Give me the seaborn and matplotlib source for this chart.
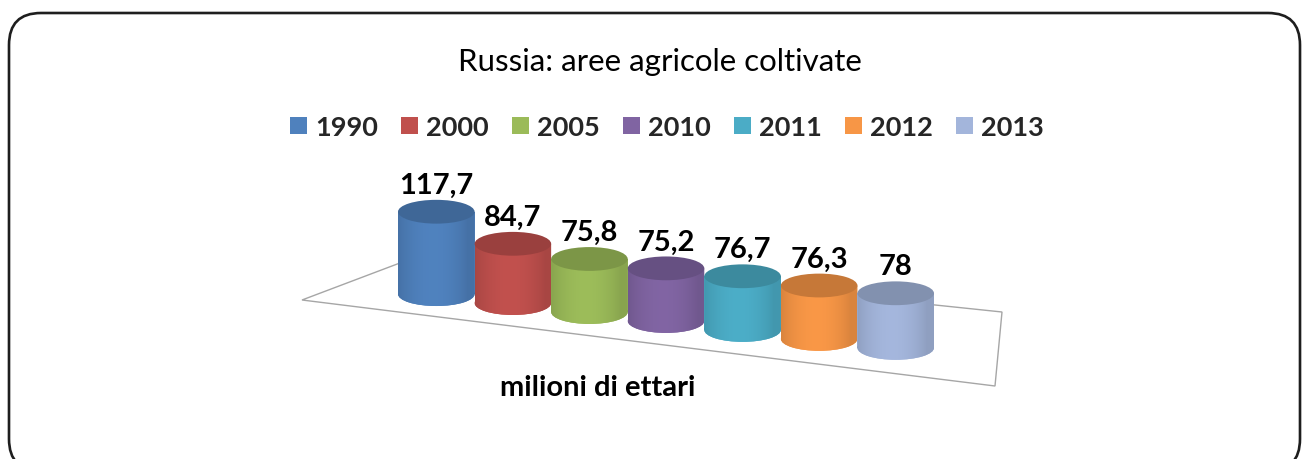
import numpy as np
import pandas as pd
import matplotlib
matplotlib.use("Agg")
import matplotlib.pyplot as plt
import seaborn as sns
from matplotlib.patches import Ellipse, FancyBboxPatch, Polygon, PathPatch
from matplotlib.path import Path
from matplotlib.transforms import Affine2D
import matplotlib.colors as mcolors

# ---- data ----
years = ["1990", "2000", "2005", "2010", "2011", "2012", "2013"]
values = [117.7, 84.7, 75.8, 75.2, 76.7, 76.3, 78.0]
labels = ["117,7", "84,7", "75,8", "75,2", "76,7", "76,3", "78"]
category = ["milioni di ettari"] * len(years)
colors = ["#4F81BD", "#C0504D", "#9BBB59", "#8064A2", "#4BACC6", "#F79646", "#A3B5DB"]
title = "Russia: aree agricole coltivate"

df = pd.DataFrame({"cat": category, "year": years, "value": values})

sns.set_theme(style="white")
plt.rcParams["font.family"] = ["Lato", "DejaVu Sans"]

W, H, DPI = 1309, 460, 100
fig = plt.figure(figsize=(W / DPI, H / DPI), dpi=DPI)

# rounded outer frame (display pixels)
frame = FancyBboxPatch((9, -12), 1291, 458, boxstyle="round,pad=0,rounding_size=32",
                       transform=None, fill=False, edgecolor="#1e1e1e", linewidth=1.9,
                       figure=fig, zorder=-2)
fig.patches.append(frame)

# floor of the 3D plot area (decoration)
floor_px = [(302, 301), (429, 253), (1002, 313), (995, 387)]
floor = Polygon([(x / W, 1 - y / H) for x, y in floor_px], closed=True, fill=False,
                edgecolor="#a6a6a6", linewidth=1.0, transform=fig.transFigure, zorder=-1)
fig.patches.append(floor)

# axes: y=0 sits at pixel row 322, 0.7 px per unit
ppu = 0.70
ax_top, ax_bot = 150, 410
ax = fig.add_axes([398 / W, 1 - ax_bot / H, 536 / W, (ax_bot - ax_top) / H])
ax.set_zorder(2)
ax.patch.set_alpha(0)
sns.barplot(data=df, x="cat", y="value", hue="year", palette=colors, ax=ax,
            width=0.8, gap=0, saturation=1, legend=True, linewidth=0)
ylo = -(ax_bot - 322) / ppu
yhi = ylo + (ax_bot - ax_top) / ppu
ax.set_xlim(-0.4, 0.4)
ax.set_ylim(ylo, yhi)
ax.axis("off")

# perspective-like drop of each cylinder towards the right (display pixels)
k = 0.117
x0 = 666.0

def shade(c, f):
    r, g, b = mcolors.to_rgb(c)
    return (r * f, g * f, b * f)

cap_h = 34.0
bars = [b for cont in ax.containers for b in cont]
for i, bar in enumerate(bars):
    bx, bw, bh = bar.get_x(), bar.get_width(), bar.get_height()
    cx = bx + bw / 2
    cx_px = ax.transData.transform((cx, 0))[0]
    tr = ax.transData + Affine2D().translate(0, -k * (cx_px - x0))
    col = bar.get_facecolor()
    bar.set_transform(tr)
    bar.set_zorder(3 + i * 3)
    bottom = Ellipse((cx, 0), bw, cap_h, facecolor=col, edgecolor="none",
                     transform=tr, zorder=3 + i * 3)
    ax.add_patch(bottom)
    # body shading: gradient image clipped to the cylinder body
    grad = np.linspace(0, 1, 64)
    prof = 0.88 + 0.13 * np.sin(np.pi * np.clip(grad * 1.1, 0, 1)) ** 0.8
    base = np.array(mcolors.to_rgb(col))
    img = np.clip(base[None, None, :] * prof[None, :, None], 0, 1)
    img = np.repeat(img, 2, axis=0)
    im = ax.imshow(img, extent=(bx, bx + bw, -cap_h / 2, bh), aspect="auto",
                   transform=tr, zorder=3 + i * 3 + 0.5, interpolation="bilinear")
    body = Path.make_compound_path(
        bar.get_path().transformed(bar.get_patch_transform()),
        Path.unit_circle().transformed(
            Affine2D().scale(bw / 2, cap_h / 2).translate(cx, 0)))
    clip = PathPatch(body, transform=tr, facecolor="none", edgecolor="none")
    ax.add_patch(clip)
    im.set_clip_path(clip)
    top = Ellipse((cx, bh), bw, cap_h, facecolor=shade(col, 0.80),
                  edgecolor="none", transform=tr, zorder=3 + i * 3 + 1)
    ax.add_patch(top)
    ax.text(cx, bh + cap_h / 2 + 3, labels[i], ha="center", va="bottom",
            fontsize=21, fontweight="bold", color="#000000", transform=tr,
            zorder=40)

ax.set_xlim(-0.4, 0.4)
ax.set_ylim(ylo, yhi)

# legend
handles, lbls = ax.get_legend_handles_labels()
if ax.get_legend() is not None:
    ax.get_legend().remove()
fig.legend(handles, lbls, loc="center", bbox_to_anchor=(667 / W, 1 - 128 / H), ncol=7,
           frameon=False, prop={"size": 19.5, "weight": "bold"}, handlelength=0.63,
           handleheight=0.63, handletextpad=0.3, columnspacing=0.85)

fig.text(660 / W, 1 - 62 / H, title, ha="center", va="center", fontsize=22.5,
         color="#000000")
fig.text(598 / W, 1 - 388 / H, "milioni di ettari", ha="center", va="center",
         fontsize=21, fontweight="bold", color="#000000")

fig.savefig("out.png", dpi=DPI)
